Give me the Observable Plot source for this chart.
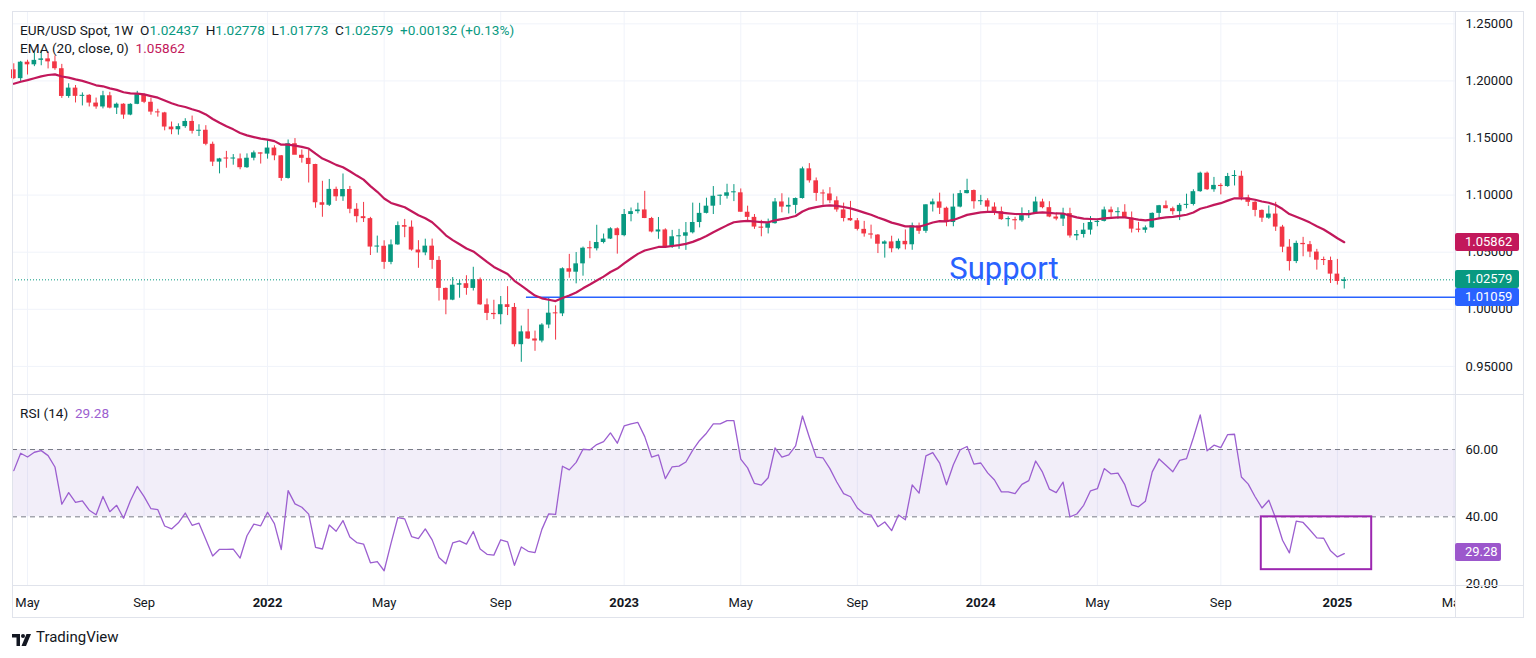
<!DOCTYPE html>
<html><head><meta charset="utf-8">
<script src="https://cdn.jsdelivr.net/npm/d3@7"></script>
<script src="https://cdn.jsdelivr.net/npm/@observablehq/plot@0.6"></script>
<style>
body{margin:0;background:#fff;}
#root{position:relative;width:1536px;height:658px;overflow:hidden;background:#fff;font-family:Roboto,"Noto Sans",sans-serif;color:#131722;}
.abs{position:absolute;}
.ln{position:absolute;background:#e0e3eb;}
.leg{position:absolute;font-size:13.6px;line-height:16px;white-space:pre;color:#131722;}
.g{color:#089981;}
.box{position:absolute;height:18px;line-height:18px;font-size:13px;color:#fff;padding-left:10px;box-sizing:border-box;border-radius:2px;}
</style></head><body><div id="root"></div>
<script>
// Weekly EUR/USD bars, first bar = week of 2021-04-26, last = week of 2025-01-13
const opens = [1.2097,1.2020,1.2164,1.2141,1.2180,1.2193,1.2167,1.2107,1.1864,1.1937,1.1865,1.1874,1.1806,1.1772,1.1870,1.1762,1.1796,1.1701,1.1795,1.1880,1.1813,1.1727,1.1720,1.1596,1.1572,1.1600,1.1645,1.1559,1.1568,1.1445,1.1289,1.1317,1.1316,1.1317,1.1240,1.1323,
1.1370,1.1359,1.1412,1.1344,1.1146,1.1450,1.1349,1.1322,1.1268,1.0933,1.0911,1.1050,1.0985,1.1049,1.0876,1.0811,1.0794,1.0545,1.0552,1.0411,1.0564,1.0733,1.0719,1.0519,1.0494,1.0553,1.0428,1.0183,1.0080,1.0211,1.0224,1.0183,1.0259,1.0039,0.9964,0.9953,1.0040,1.0016,0.9690,0.9802,0.9740,0.9722,0.9862,0.9966,0.9960,1.0355,1.0325,1.0398,1.0535,1.0530,1.0585,1.0615,
1.0705,1.0645,1.0830,1.0855,1.0870,1.0795,1.0677,1.0695,1.0545,1.0635,1.0640,1.0670,1.0760,1.0840,1.0903,1.0990,1.0990,1.1020,1.1020,1.0850,1.0805,1.0720,1.0710,1.0750,1.0940,1.0895,1.0910,1.0970,1.1230,1.1125,1.1015,1.1010,1.0950,1.0870,1.0795,1.0775,1.0700,1.0660,1.0650,1.0570,1.0590,1.0530,1.0595,1.0565,1.0730,1.0683,1.0915,1.0940,1.0885,1.0760,1.0895,1.1013,
1.1040,1.0942,1.0950,1.0895,1.0855,1.0785,1.0785,1.0775,1.0820,1.0838,1.0940,1.0890,1.0808,1.0790,1.0838,1.0642,1.0655,1.0693,1.0760,1.0770,1.0870,1.0846,1.0850,1.0800,1.0702,1.0692,1.0713,1.0840,1.0907,1.0881,1.0855,1.0910,1.0918,1.1030,1.1192,1.1047,1.1085,1.1075,1.1163,1.1165,1.0975,1.0937,1.0866,1.0798,1.0834,1.0720,1.0544,1.0418,1.0577,1.0566,1.0501,1.0430,1.0427,
1.0308,1.02437];
const highs = [1.2150,1.2171,1.2181,1.2245,1.2266,1.2254,1.2218,1.2145,1.1975,1.1960,1.1895,1.1880,1.1850,1.1909,1.1900,1.1806,1.1800,1.1800,1.1909,1.1886,1.1849,1.1752,1.1725,1.1640,1.1624,1.1669,1.1692,1.1616,1.1608,1.1464,1.1322,1.1383,1.1355,1.1360,1.1361,1.1386,
1.1370,1.1482,1.1432,1.1347,1.1483,1.1495,1.1395,1.1395,1.1270,1.1121,1.1137,1.1070,1.1185,1.1076,1.0925,1.0936,1.0805,1.0641,1.0600,1.0607,1.0765,1.0787,1.0774,1.0601,1.0614,1.0615,1.0461,1.0186,1.0278,1.0254,1.0294,1.0368,1.0274,1.0090,1.0079,1.0112,1.0198,1.0051,0.9853,0.9999,0.9809,0.9874,1.0094,1.0030,1.0363,1.0481,1.0497,1.0545,1.0595,1.0736,1.0659,1.0714,
1.0713,1.0874,1.0887,1.0929,1.1033,1.0805,1.0804,1.0705,1.0691,1.0700,1.0760,1.0930,1.0928,1.0973,1.1075,1.1000,1.1095,1.1092,1.1054,1.0903,1.0830,1.0779,1.0790,1.0970,1.1012,1.0975,1.0975,1.1245,1.1276,1.1150,1.1045,1.1065,1.0985,1.0930,1.0945,1.0795,1.0770,1.0737,1.0655,1.0600,1.0640,1.0615,1.0695,1.0755,1.0755,1.0915,1.0965,1.1017,1.0895,1.1009,1.1040,1.1139,
1.1045,1.0998,1.0968,1.0932,1.0895,1.0810,1.0806,1.0888,1.0865,1.0982,1.0964,1.0942,1.0843,1.0885,1.0885,1.0690,1.0752,1.0812,1.0791,1.0895,1.0895,1.0889,1.0916,1.0852,1.0761,1.0730,1.0844,1.0910,1.0948,1.0895,1.0925,1.1008,1.1047,1.1201,1.1202,1.1155,1.1100,1.1190,1.1214,1.1209,1.0999,1.0945,1.0870,1.0905,1.0937,1.0735,1.0610,1.0597,1.0630,1.0594,1.0525,1.0457,1.0457,
1.0437,1.02778];
const lows = [1.2011,1.1986,1.2052,1.2125,1.2133,1.2105,1.2093,1.1847,1.1848,1.1807,1.1781,1.1772,1.1752,1.1755,1.1755,1.1706,1.1664,1.1695,1.1792,1.1801,1.1700,1.1683,1.1563,1.1529,1.1525,1.1585,1.1535,1.1513,1.1432,1.1250,1.1186,1.1235,1.1262,1.1222,1.1234,1.1300,
1.1272,1.1315,1.1301,1.1121,1.1140,1.1374,1.1280,1.1106,1.0885,1.0806,1.0900,1.0945,1.0945,1.0837,1.0757,1.0760,1.0471,1.0492,1.0350,1.0390,1.0560,1.0627,1.0509,1.0359,1.0469,1.0350,1.0072,0.9952,1.0075,1.0097,1.0123,1.0160,1.0034,0.9901,0.9910,0.9864,0.9945,0.9670,0.9536,0.9735,0.9632,0.9706,0.9830,0.9730,0.9936,1.0272,1.0223,1.0290,1.0443,1.0511,1.0573,1.0611,
1.0483,1.0635,1.0766,1.0835,1.0794,1.0669,1.0613,1.0533,1.0533,1.0525,1.0516,1.0660,1.0713,1.0835,1.0830,1.0910,1.0965,1.0943,1.0850,1.0760,1.0700,1.0635,1.0660,1.0745,1.0845,1.0835,1.0835,1.0965,1.1105,1.0945,1.0912,1.0925,1.0850,1.0765,1.0770,1.0686,1.0632,1.0615,1.0488,1.0448,1.0495,1.0520,1.0520,1.0517,1.0656,1.0665,1.0852,1.0830,1.0723,1.0723,1.0888,1.1010,
1.0877,1.0910,1.0845,1.0822,1.0780,1.0722,1.0695,1.0762,1.0795,1.0835,1.0880,1.0802,1.0775,1.0725,1.0623,1.0601,1.0624,1.0650,1.0723,1.0765,1.0805,1.0788,1.0800,1.0668,1.0670,1.0666,1.0710,1.0790,1.0880,1.0825,1.0777,1.0880,1.0905,1.1025,1.1040,1.1025,1.1002,1.1068,1.1080,1.0950,1.0900,1.0810,1.0761,1.0788,1.0682,1.0496,1.0335,1.0400,1.0460,1.0452,1.0343,1.0383,1.0226,
1.0212,1.01773];
const closes = [1.2020,1.2164,1.2141,1.2180,1.2193,1.2167,1.2107,1.1864,1.1937,1.1865,1.1874,1.1806,1.1772,1.1870,1.1762,1.1796,1.1701,1.1795,1.1880,1.1813,1.1727,1.1720,1.1596,1.1572,1.1600,1.1645,1.1559,1.1568,1.1445,1.1289,1.1317,1.1316,1.1317,1.1240,1.1323,1.1370,
1.1359,1.1412,1.1344,1.1146,1.1450,1.1349,1.1322,1.1268,1.0933,1.0911,1.1050,1.0985,1.1049,1.0876,1.0811,1.0794,1.0545,1.0552,1.0411,1.0564,1.0733,1.0719,1.0519,1.0494,1.0553,1.0428,1.0183,1.0080,1.0211,1.0224,1.0183,1.0259,1.0039,0.9964,0.9953,1.0040,1.0016,0.9690,0.9802,0.9740,0.9722,0.9862,0.9966,0.9960,1.0355,1.0325,1.0398,1.0535,1.0530,1.0585,1.0615,1.0705,
1.0645,1.0830,1.0855,1.0870,1.0795,1.0677,1.0695,1.0545,1.0635,1.0640,1.0670,1.0760,1.0840,1.0903,1.0990,1.0990,1.1020,1.1020,1.0850,1.0805,1.0720,1.0710,1.0750,1.0940,1.0895,1.0910,1.0970,1.1230,1.1125,1.1015,1.1010,1.0950,1.0870,1.0795,1.0775,1.0700,1.0660,1.0650,1.0570,1.0590,1.0530,1.0595,1.0565,1.0730,1.0683,1.0915,1.0940,1.0885,1.0760,1.0895,1.1013,1.1040,
1.0942,1.0950,1.0895,1.0855,1.0785,1.0785,1.0775,1.0820,1.0838,1.0940,1.0890,1.0808,1.0790,1.0838,1.0642,1.0655,1.0693,1.0760,1.0770,1.0870,1.0846,1.0850,1.0800,1.0702,1.0692,1.0713,1.0840,1.0907,1.0881,1.0855,1.0910,1.0918,1.1030,1.1192,1.1047,1.1085,1.1075,1.1163,1.1165,1.0975,1.0937,1.0866,1.0798,1.0834,1.0720,1.0544,1.0418,1.0577,1.0566,1.0501,1.0430,1.0427,1.0308,
1.0244,1.02579];

// time-axis labels (bar index of the first bar shown for each label)
const tickIndex = [2,19,37,54,71,89,106,123,141,158,176,193,210];
const tickLabel = ["May","Sep","2022","May","Sep","2023","May","Sep","2024","May","Sep","2025","May"];
const tickIsYear = [false,false,true,false,false,true,false,false,true,false,false,true,false];
// price scale ticks and RSI scale ticks
const priceTicks = [0.95,1.00,1.05,1.10,1.15,1.20,1.25];
const rsiTicks = [60,40,20];
// readouts shown on the chart
const lastClose = 1.02579, emaLast = 1.05862, supportLevel = 1.01059, rsiLast = 29.28;
const supportStartIndex = 74.75;
const supportLabel = "Support", supportLabelX = 136.4, supportLabelY = 1.0353;
const rsiBox = {x1: 181.9, x2: 198.0, y1: 24.3, y2: 40.0};
const emaLength = 20, emaSeed = 1.1970;
const rsiLength = 14, rsiSeedGain = 0.0051, rsiSeedLoss = 0.0038;

const green = "#089981", red = "#f23645", emaColor = "#c2185b", blue = "#2962ff", rsiColor = "#9c5fd0", boxColor = "#9c27b0";
const xDomain = [-0.19, 210.22];
const FONT = "Roboto, 'Noto Sans', sans-serif";

// build table
const bars = closes.map((c, k) => ({i: k, o: opens[k], h: highs[k], l: lows[k], c, up: c >= opens[k]}));
{ // EMA
  const a = 2 / (emaLength + 1); let e = emaSeed;
  bars.forEach(b => { e = e + a * (b.c - e); b.ema = e; });
}
{ // RSI (Wilder)
  let ag = rsiSeedGain, al = rsiSeedLoss;
  bars.forEach((b, k) => {
    const prev = k ? bars[k - 1].c : opens[0];
    const ch = b.c - prev;
    ag = (ag * (rsiLength - 1) + Math.max(ch, 0)) / rsiLength;
    al = (al * (rsiLength - 1) + Math.max(-ch, 0)) / rsiLength;
    b.rsi = 100 - 100 / (1 + ag / al);
  });
}
bars.forEach(b => { b.bLo = Math.min(b.o, b.c); b.bHi = Math.max(b.bLo + 0.0009, Math.max(b.o, b.c)); b.col = b.up ? green : red; });

const root = document.getElementById("root");
const baseStyle = {fontFamily: FONT, fontSize: "13px", color: "#131722", background: "none", overflow: "visible"};

const price = Plot.plot({
  width: 1536, height: 395, marginLeft: 12, marginRight: 81, marginTop: 11, marginBottom: 0,
  x: {type: "linear", domain: xDomain, axis: null},
  y: {domain: [0.9245, 1.2608], axis: null},
  color: {type: "identity"},
  style: baseStyle,
  marks: [
    Plot.ruleX(tickIndex, {x: d => d, stroke: "#f0f3fa", strokeWidth: 1}),
    Plot.ruleY(priceTicks, {y: d => d, stroke: "#f0f3fa", strokeWidth: 1}),
    Plot.text(priceTicks, {x: xDomain[1], y: d => d, text: d => d.toFixed(5), dx: 10, textAnchor: "start", fill: "#131722", fontSize: 13}),
    Plot.ruleY([lastClose], {stroke: green, strokeDasharray: "1,2", strokeWidth: 1}),
    Plot.ruleY([supportLevel], {x1: supportStartIndex, x2: xDomain[1], stroke: blue, strokeWidth: 1.6}),
    Plot.ruleX(bars, {x: "i", y1: "l", y2: "h", stroke: "col", strokeWidth: 1}),
    Plot.rect(bars, {x1: d => d.i - 0.34, x2: d => d.i + 0.34, y1: "bLo", y2: "bHi", fill: "col"}),
    Plot.line(bars, {x: "i", y: "ema", stroke: emaColor, strokeWidth: 2.2}),
    Plot.text([supportLabel], {x: supportLabelX, y: supportLabelY, text: d => d, textAnchor: "start", fill: blue, fontSize: 31, fontFamily: FONT})
  ]
});
const rsi = Plot.plot({
  width: 1536, height: 190, marginLeft: 12, marginRight: 81, marginTop: 0, marginBottom: 0,
  x: {type: "linear", domain: xDomain, axis: null},
  y: {domain: [19.6, 76.05], axis: null},
  style: baseStyle,
  marks: [
    Plot.ruleX(tickIndex, {x: d => d, stroke: "#f0f3fa", strokeWidth: 1}),
    Plot.rect([0], {x1: xDomain[0], x2: xDomain[1], y1: 40, y2: 60, fill: "#7e57c2", fillOpacity: 0.1}),
    Plot.ruleY([60, 40], {y: d => d, stroke: "#787b86", strokeDasharray: "5,4", strokeWidth: 1}),
    Plot.text(rsiTicks, {x: xDomain[1], y: d => d, text: d => d.toFixed(2), dx: 10, textAnchor: "start", fill: "#131722", fontSize: 13}),
    Plot.line(bars, {x: "i", y: "rsi", stroke: rsiColor, strokeWidth: 1.3}),
    Plot.rect([rsiBox], {x1: "x1", x2: "x2", y1: "y1", y2: "y2", fill: "none", stroke: boxColor, strokeWidth: 2})
  ]
});
const ticksData = tickIndex.map((t, k) => ({i: t, label: tickLabel[k], year: tickIsYear[k]}));
const time = Plot.plot({
  width: 1536, height: 32, marginLeft: 12, marginRight: 81, marginTop: 0, marginBottom: 0,
  x: {type: "linear", domain: xDomain, axis: null},
  style: baseStyle,
  marks: [
    Plot.text(ticksData.filter(d => !d.year), {x: "i", text: "label", frameAnchor: "middle", dy: 1, fill: "#131722", fontSize: 13, clip: true}),
    Plot.text(ticksData.filter(d => d.year), {x: "i", text: "label", frameAnchor: "middle", dy: 1, fill: "#131722", fontSize: 13, fontWeight: "bold", clip: true})
  ]
});

function place(el, left, top) {
  const d = document.createElement("div");
  d.className = "abs"; d.style.left = left + "px"; d.style.top = top + "px"; d.style.width = "1536px";
  d.appendChild(el); root.appendChild(d); return d;
}
place(price, 0, 0); place(rsi, 0, 395); place(time, 0, 585);

function line(l, t, w, h) { const d = document.createElement("div"); d.className = "ln"; Object.assign(d.style, {left: l + "px", top: t + "px", width: w + "px", height: h + "px"}); root.appendChild(d); }
line(12, 11, 1512, 1); line(12, 617, 1512, 1); line(12, 11, 1, 607); line(1523, 11, 1, 607);
line(1455, 11, 1, 607); line(12, 394, 1512, 1); line(12, 585, 1512, 1);

function html(cls, l, t, inner) { const d = document.createElement("div"); d.className = cls; d.style.left = l + "px"; d.style.top = t + "px"; d.innerHTML = inner; root.appendChild(d); return d; }
html("leg", 20, 22, 'EUR/USD Spot, 1W  O<span class="g">1.02437</span>  H<span class="g">1.02778</span>  L<span class="g">1.01773</span>  C<span class="g">1.02579</span>  <span class="g">+0.00132 (+0.13%)</span>');
html("leg", 20, 40, 'EMA (20, close, 0)  <span style="color:' + emaColor + '">' + emaLast.toFixed(5) + '</span>');
html("leg", 20, 405, 'RSI (14)  <span style="color:' + rsiColor + '">' + rsiLast.toFixed(2) + '</span>');

const ys = price.scale("y"), yr = rsi.scale("y");
function box(text, color, yc, w) { const d = html("box", 1455, Math.round(yc - 9), text); d.style.background = color; d.style.width = w + "px"; }
box(emaLast.toFixed(5), emaColor, ys.apply(emaLast), 64);
box(lastClose.toFixed(5), green, ys.apply(lastClose), 64);
box(supportLevel.toFixed(5), blue, ys.apply(supportLevel), 64);
box(rsiLast.toFixed(2), "#9c57cc", 395 + yr.apply(rsiLast), 46);

// TradingView logo
html("abs", 12, 631, '<svg width="22" height="12" viewBox="0 0 22 12"><path d="M0 0H8V12H4.5V3.5H0Z" fill="#131722"/><circle cx="11" cy="2" r="2" fill="#131722"/><path d="M14.5 0H19L14 12H9.5Z" fill="#131722"/></svg>');
html("leg", 36, 629, '<span style="font-size:15px">TradingView</span>');
</script></body></html>
